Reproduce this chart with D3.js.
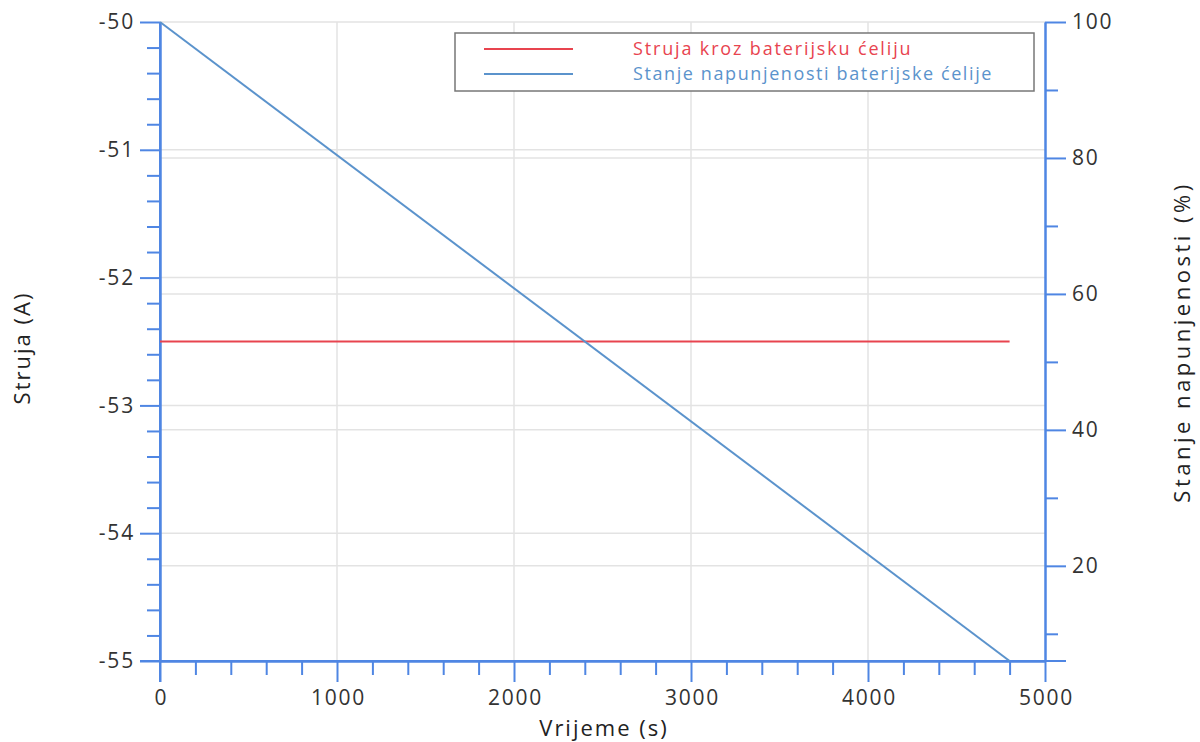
<!DOCTYPE html>
<html><head><meta charset="utf-8">
<script src="https://cdn.jsdelivr.net/npm/d3@7"></script>
<style>
body{margin:0;background:#fff;}
text{font-family:"Open Sans","Noto Sans",sans-serif;}
</style></head>
<body><svg id="c" width="1200" height="742"></svg>
<script>
const timeS = [0, 4800];
const currentA = [-52.5, -52.5];
const socPct = [100, 6];
const xTicks = [0, 1000, 2000, 3000, 4000, 5000];
const leftTicks = [-50, -51, -52, -53, -54, -55];
const rightTicks = [100, 80, 60, 40, 20];
const seriesNames = ["Struja kroz baterijsku ćeliju", "Stanje napunjenosti baterijske ćelije"];
const axisTitles = {x: "Vrijeme (s)", left: "Struja (A)", right: "Stanje napunjenosti (%)"};

const svg = d3.select("#c");
const L = 160, R = 1045, T = 22, B = 661;
const x = d3.scaleLinear().domain([0, 5000]).range([L, R]);
const yL = d3.scaleLinear().domain([-55, -50]).range([B, T]);
const yR = d3.scaleLinear().domain([6, 100]).range([B, T]);
const axisCol = "#4f86e3", gridCol = "#e3e3e3";

// grid
const g = svg.append("g");
g.selectAll(".gv").data(xTicks.filter(d => d > 0 && d < 5000)).join("line")
  .attr("x1", d => x(d)).attr("x2", d => x(d)).attr("y1", T).attr("y2", B)
  .attr("stroke", gridCol).attr("stroke-width", 1.5);
g.selectAll(".gl").data(leftTicks.filter(d => d > -55)).join("line")
  .attr("x1", L).attr("x2", R).attr("y1", d => yL(d)).attr("y2", d => yL(d))
  .attr("stroke", gridCol).attr("stroke-width", 1.5);
g.selectAll(".gr").data(rightTicks.filter(d => d < 100)).join("line")
  .attr("x1", L).attr("x2", R).attr("y1", d => yR(d)).attr("y2", d => yR(d))
  .attr("stroke", gridCol).attr("stroke-width", 1.5);

function styleAxis(sel){
  sel.selectAll("path").attr("stroke", axisCol).attr("stroke-width", 2);
  sel.selectAll("line").attr("stroke", axisCol).attr("stroke-width", 2);
  sel.selectAll("text").attr("fill", "#333").attr("font-size", 21)
     .attr("letter-spacing", 1.8)
     .attr("font-family", "'Open Sans','Noto Sans',sans-serif");
}

// minor ticks
const xMinor = d3.range(0, 5001, 200).filter(v => v % 1000 !== 0);
const lMinor = d3.range(-55, -49.99, 0.2).map(v => +v.toFixed(1)).filter(v => Math.abs(v - Math.round(v)) > 1e-6);
const rMinor = [90, 70, 50, 30, 10];

svg.append("g").attr("transform", `translate(0,${B})`)
  .call(d3.axisBottom(x).tickValues(xMinor).tickSize(14).tickFormat("").tickSizeOuter(0))
  .call(styleAxis);
svg.append("g").attr("transform", `translate(${L},0)`)
  .call(d3.axisLeft(yL).tickValues(lMinor).tickSize(13).tickFormat("").tickSizeOuter(0))
  .call(styleAxis);
svg.append("g").attr("transform", `translate(${R},0)`)
  .call(d3.axisRight(yR).tickValues(rMinor).tickSize(13).tickFormat("").tickSizeOuter(0))
  .call(styleAxis);

// major axes
svg.append("g").attr("transform", `translate(0,${B})`)
  .call(d3.axisBottom(x).tickValues(xTicks).tickSize(21).tickPadding(8).tickFormat(d3.format("d")).tickSizeOuter(0))
  .call(styleAxis)
  .call(s => s.selectAll("text").attr("dx", 1));
svg.append("g").attr("transform", `translate(${L},0)`)
  .call(d3.axisLeft(yL).tickValues(leftTicks).tickSize(20).tickPadding(5).tickFormat(d => d3.format("d")(d).replace("−","-")).tickSizeOuter(0))
  .call(styleAxis);
svg.append("g").attr("transform", `translate(${R},0)`)
  .call(d3.axisRight(yR).tickValues(rightTicks).tickSize(21).tickPadding(6).tickFormat(d3.format("d")).tickSizeOuter(0))
  .call(styleAxis);

// extended baseline
svg.append("line").attr("x1", x(0) - 20).attr("x2", x(5000) + 21).attr("y1", B).attr("y2", B)
  .attr("stroke", axisCol).attr("stroke-width", 2);
svg.append("line").attr("x1", L).attr("x2", L).attr("y1", T).attr("y2", B + 21)
  .attr("stroke", axisCol).attr("stroke-width", 2);

// series
const red = "#e8444f", blue = "#5b93cc";
svg.append("path").datum(d3.zip(timeS, currentA))
  .attr("d", d3.line().x(d => x(d[0])).y(d => yL(d[1])))
  .attr("fill", "none").attr("stroke", red).attr("stroke-width", 2);
svg.append("path").datum(d3.zip(timeS, socPct))
  .attr("d", d3.line().x(d => x(d[0])).y(d => yR(d[1])))
  .attr("fill", "none").attr("stroke", blue).attr("stroke-width", 2);

// legend
const lg = svg.append("g");
lg.append("rect").attr("x", 455).attr("y", 33).attr("width", 579).attr("height", 58)
  .attr("fill", "#fff").attr("stroke", "#777").attr("stroke-width", 1.5);
[red, blue].forEach((c, i) => {
  const yy = 49 + i * 25;
  lg.append("line").attr("x1", 484).attr("x2", 573).attr("y1", yy).attr("y2", yy)
    .attr("stroke", c).attr("stroke-width", 2);
  lg.append("text").attr("x", 633).attr("y", yy + 6).attr("fill", c)
    .attr("font-size", 18).attr("letter-spacing", i === 0 ? 1.85 : 1.6).text(seriesNames[i]);
});

// titles
svg.append("text").attr("transform", "translate(30,348) rotate(-90)").attr("text-anchor", "middle")
  .attr("font-size", 22).attr("letter-spacing", 2).attr("fill", "#222").text(axisTitles.left);
svg.append("text").attr("transform", "translate(1190,342) rotate(-90)").attr("text-anchor", "middle")
  .attr("font-size", 22).attr("letter-spacing", 3.5).attr("fill", "#222").text(axisTitles.right);
svg.append("text").attr("x", 604).attr("y", 736).attr("text-anchor", "middle")
  .attr("font-size", 22).attr("letter-spacing", 2).attr("fill", "#222").text(axisTitles.x);
</script></body></html>
